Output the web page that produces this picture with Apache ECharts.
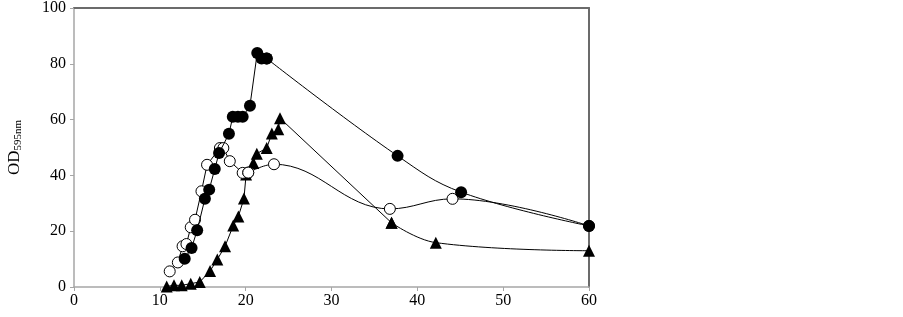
<!DOCTYPE html>
<html>
<head>
<meta charset="utf-8">
<script src="https://cdn.jsdelivr.net/npm/echarts@6/dist/echarts.min.js"></script>
<style>html,body{margin:0;padding:0;background:#fff}#c{width:903px;height:317px}</style>
</head>
<body>
<div id="c"></div>
<script>
var xTicks = [0, 10, 20, 30, 40, 50, 60];
var yTicks = [0, 20, 40, 60, 80, 100];

var filledX = [12.9, 13.7, 14.35, 15.25, 15.75, 16.4, 16.9, 18.05, 18.5, 19.1, 19.65, 20.5, 21.35, 21.85, 22.45, 37.7, 45.1, 60];
var filledY = [10.1, 14.0, 20.3, 31.6, 34.9, 42.3, 48.0, 54.9, 61.0, 61.0, 61.0, 65.0, 83.9, 81.9, 81.9, 47.0, 34.0, 21.9];

var openX = [11.15, 12.1, 12.65, 13.1, 13.6, 14.1, 14.85, 15.5, 17.0, 17.4, 18.15, 19.65, 20.3, 23.3, 36.8, 44.1, 60];
var openY = [5.6, 8.8, 14.6, 15.4, 21.4, 24.1, 34.3, 43.8, 49.8, 49.8, 45.1, 40.9, 41.0, 44.0, 28.0, 31.6, 21.9];

var triX = [10.8, 11.65, 12.55, 13.6, 14.65, 15.85, 16.7, 17.6, 18.55, 19.15, 19.8, 20.05, 20.9, 21.3, 22.45, 23.05, 23.8, 24.0, 37.0, 42.15, 60];
var triY = [0.2, 0.6, 0.6, 1.2, 1.8, 5.7, 9.9, 14.6, 22.0, 25.3, 31.7, 40.3, 44.4, 47.8, 49.8, 55.0, 56.5, 60.5, 23.0, 15.9, 13.0];

function pairs(xs, ys) { return xs.map(function (x, i) { return [x, ys[i]]; }); }

var FONT = 'Liberation Serif';

function makeSeries(xs, ys, split, sym, size, fill, z) {
  var all = pairs(xs, ys);
  var style = { color: fill, borderColor: '#000', borderWidth: fill === '#fff' ? 1 : 0 };
  var common = {
    type: 'line', symbol: sym, symbolSize: size, z: z,
    lineStyle: { color: '#000', width: 1 }, itemStyle: style
  };
  return [
    Object.assign({}, common, { data: all.slice(0, split + 1), smooth: false }),
    Object.assign({}, common, { data: all.slice(split), smooth: 0.4 })
  ];
}

var series = []
  .concat(makeSeries(triX, triY, 18, 'triangle', 12, '#000', 2))
  .concat(makeSeries(openX, openY, 12, 'circle', 11, '#fff', 3))
  .concat(makeSeries(filledX, filledY, 14, 'circle', 12, '#000', 4));

var chart = echarts.init(document.getElementById('c'));
chart.setOption({
  animation: false,
  backgroundColor: '#fff',
  grid: { left: 74, right: 314, top: 8, bottom: 30, containLabel: false, outerBoundsMode: 'none' },
  xAxis: [{
    type: 'value', min: xTicks[0], max: xTicks[xTicks.length - 1], interval: 10,
    axisLine: { show: true, lineStyle: { color: '#a6a6a6', width: 1.5 } },
    axisTick: { show: true, inside: false, length: 4, lineStyle: { color: '#a6a6a6' } },
    axisLabel: { color: '#000', fontFamily: FONT, fontSize: 16, margin: 6 },
    splitLine: { show: false }
  }, {
    type: 'value', position: 'top', min: 0, max: 60,
    axisLine: { show: true, onZero: false, lineStyle: { color: '#6b6b6b', width: 2 } },
    axisTick: { show: false }, axisLabel: { show: false }, splitLine: { show: false }
  }],
  yAxis: [{
    type: 'value', min: yTicks[0], max: yTicks[yTicks.length - 1], interval: 20,
    name: '{a|OD}{b|595nm}',
    nameLocation: 'middle', nameGap: 50, nameRotate: 90,
    nameTextStyle: {
      rich: {
        a: { fontFamily: FONT, fontSize: 17, color: '#000' },
        b: { fontFamily: FONT, fontSize: 11, color: '#000', padding: [8, 0, 0, 0] }
      }
    },
    axisLine: { show: true, lineStyle: { color: '#a6a6a6', width: 1.5 } },
    axisTick: { show: true, inside: false, length: 4, lineStyle: { color: '#a6a6a6' } },
    axisLabel: { color: '#000', fontFamily: FONT, fontSize: 16, margin: 8 },
    splitLine: { show: false }
  }, {
    type: 'value', position: 'right', min: 0, max: 100,
    axisLine: { show: true, onZero: false, lineStyle: { color: '#6b6b6b', width: 2 } },
    axisTick: { show: false }, axisLabel: { show: false }, splitLine: { show: false }
  }],
  series: series
});
</script>
</body>
</html>
